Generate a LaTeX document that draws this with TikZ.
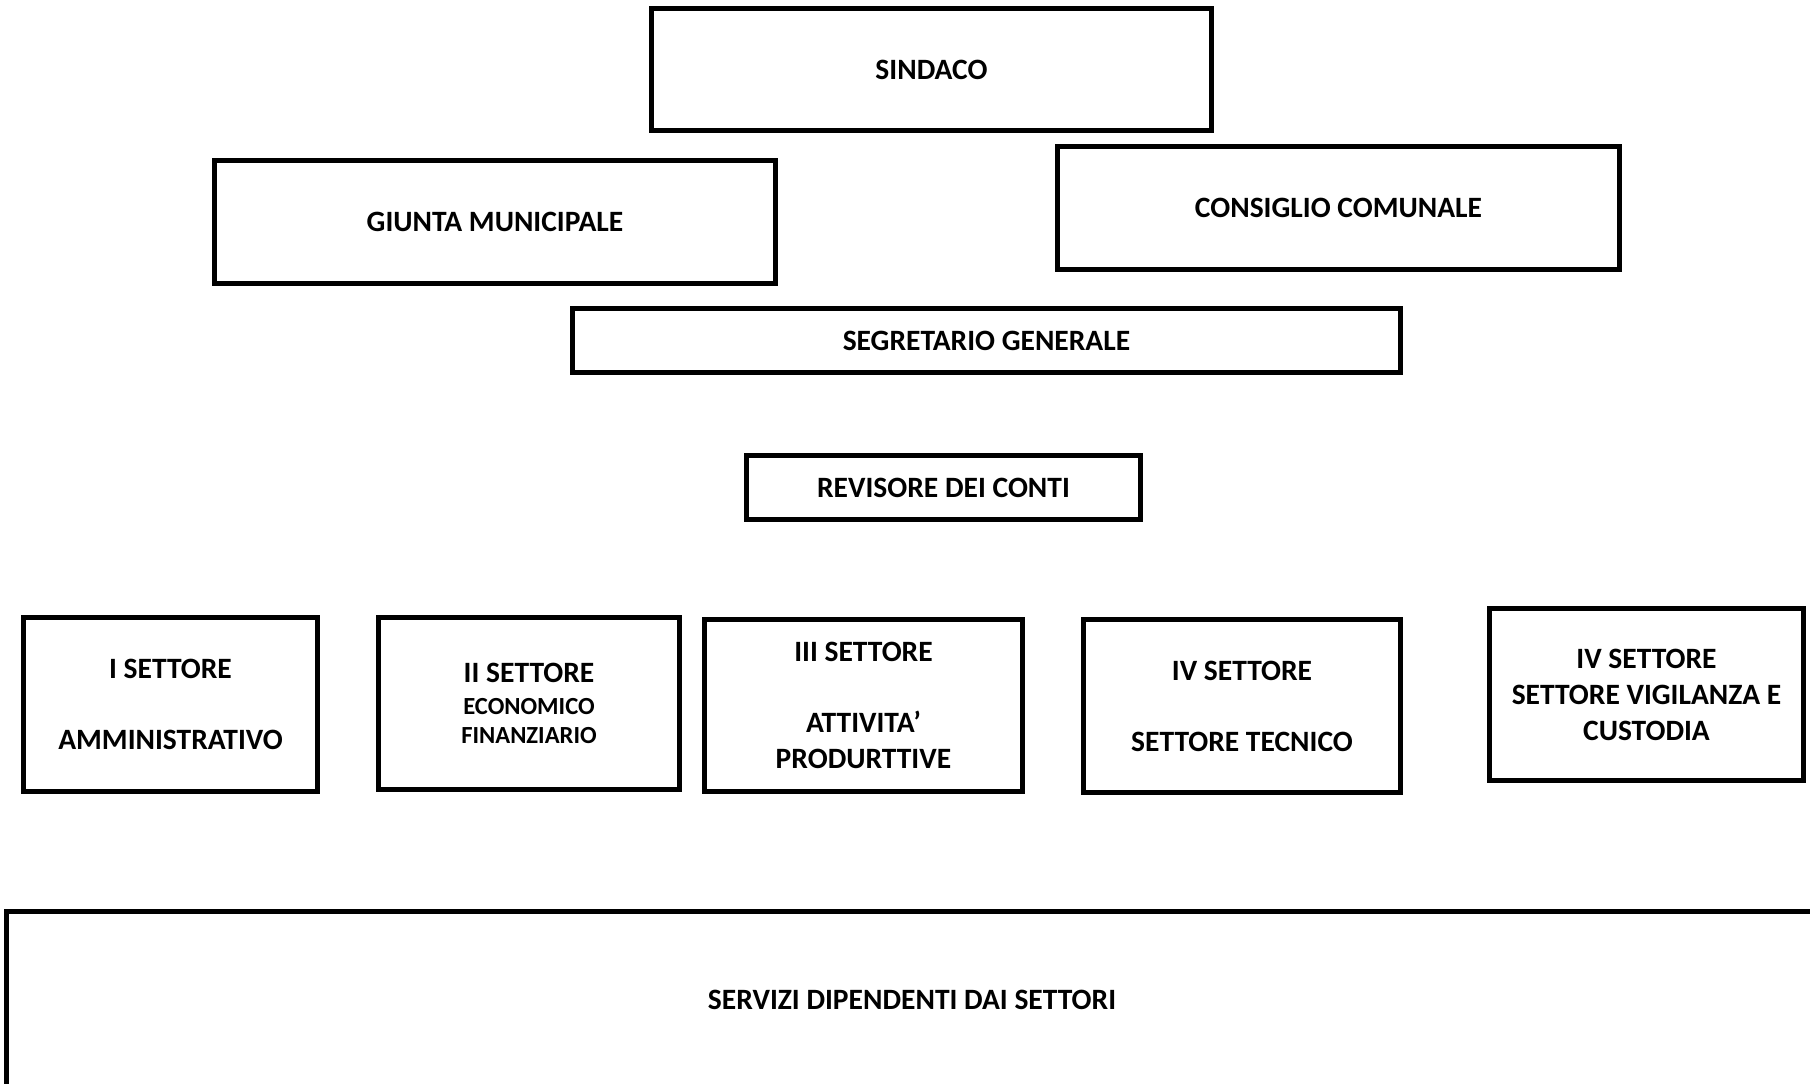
\documentclass[tikz,border=0pt]{standalone}
\usepackage{fontspec}
\setmainfont{Carlito}

\tikzset{
  box/.style={draw, line width=0.09cm, align=center, inner sep=0pt,
    font=\fontsize{16.8}{20.5}\selectfont\bfseries},
  boxsize/.style 2 args={minimum width=#1*0.02cm, minimum height=#2*0.02cm},
}
\newcommand{\smalltext}{\fontsize{14}{17}\selectfont}

\begin{document}
\begin{tikzpicture}[x=0.02cm,y=-0.02cm]
  \useasboundingbox (0,0) rectangle (1810,1083);
  \clip (0,0) rectangle (1810,1083);

  % Organi di vertice
  \node[box, boxsize={560}{122}] (sindaco) at (931.5,69.5) {SINDACO};
  \node[box, boxsize={561}{123}] (giunta) at (495,222) {GIUNTA MUNICIPALE};
  \node[box, boxsize={562}{123}] (consiglio) at (1338.5,208) {CONSIGLIO COMUNALE};
  \node[box, boxsize={828}{64}] (segretario) at (986.5,340.5) {SEGRETARIO GENERALE};
  \node[box, boxsize={394}{64}] (revisore) at (943.5,487.5) {REVISORE DEI CONTI};

  % I settori
  \node[box, boxsize={294}{174}] (settoreI) at (170.5,704.5)
    {I SETTORE\\[20pt]AMMINISTRATIVO};
  \node[box, boxsize={301}{172}] (settoreII) at (529,703.5)
    {II SETTORE\\[-2.5pt]\smalltext ECONOMICO\\[-4.2pt]\smalltext FINANZIARIO};
  \node[box, boxsize={318}{172}] (settoreIII) at (863.5,705.5)
    {III SETTORE\\[20pt]ATTIVITA’\\PRODURTTIVE};
  \node[box, boxsize={317}{173}] (settoreIV) at (1242,706)
    {IV SETTORE\\[20pt]SETTORE TECNICO};
  \node[box, boxsize={314}{172}] (settoreV) at (1646.5,694.5)
    {IV SETTORE\\SETTORE VIGILANZA E\\CUSTODIA};

  % Servizi (tagliato dal bordo)
  \node[box, boxsize={1811}{177}] (servizi) at (912,1000)
    {SERVIZI DIPENDENTI DAI SETTORI};
\end{tikzpicture}
\end{document}
